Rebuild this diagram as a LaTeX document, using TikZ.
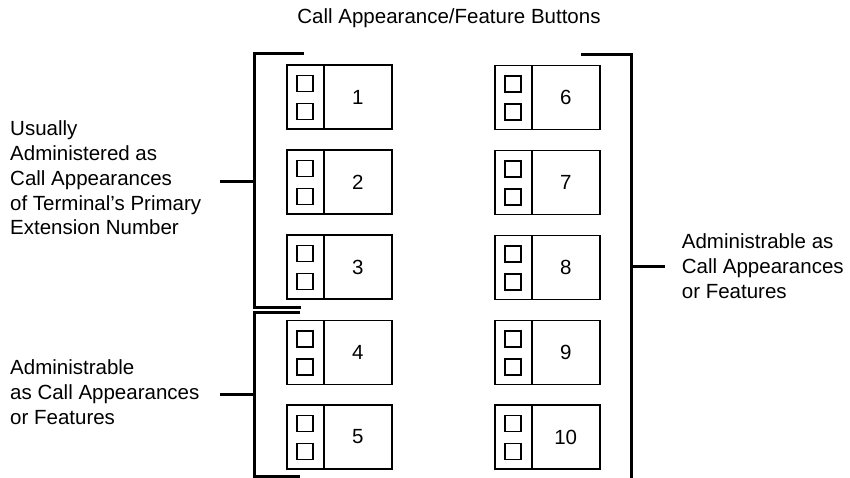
\documentclass[tikz,border=0pt]{standalone}
\usepackage{fontspec}
\setmainfont{Liberation Sans}
\begin{document}
\begin{tikzpicture}[x=1pt,y=-1pt,
  btn/.style={draw,line width=1.6pt,minimum width=105pt,minimum height=64pt,inner sep=0pt,outer sep=0pt},
  lamp/.style={draw,line width=1.5pt,minimum size=16pt,inner sep=0pt},
  divider/.style={line width=1.6pt},
  brk/.style={line width=3pt},
  lbl/.style={font=\fontsize{20.5}{24.7}\selectfont,align=left,anchor=west,inner sep=0pt},
  num/.style={font=\fontsize{20.5}{24.7}\selectfont,inner sep=0pt}]
\useasboundingbox (0,0) rectangle (850,478);

% title
\node[num] (title) at (449,18) {Call Appearance/Feature Buttons};

% buttons
\foreach \i/\x/\y in {1/286.7/65,2/286.7/150,3/286.7/235,4/286.7/320.5,5/286.7/405,
                      6/494.7/65.5,7/494.7/150.5,8/494.7/235.5,9/494.7/320.5,10/494.7/405}{
  \node[btn,anchor=north west] (b\i) at (\x,\y) {};
  \coordinate (dt\i) at ([xshift=37pt]b\i.north west);
  \coordinate (db\i) at ([xshift=37pt]b\i.south west);
  \draw[divider] (dt\i) -- (db\i);
  \node[lamp] (u\i) at ([xshift=18.5pt,yshift=-18.5pt]b\i.north west) {};
  \node[lamp] (l\i) at ([xshift=18.5pt,yshift=-46.5pt]b\i.north west) {};
  \node[num] (n\i) at ([xshift=71pt]b\i.west) {\i};
}

% upper left bracket
\coordinate (LA1) at (304,54);
\coordinate (LA2) at (254.7,54);
\coordinate (LA3) at (254.7,307.3);
\coordinate (LA4) at (300.7,307.3);
\draw[brk] (LA1) -- (LA2) -- (LA3) -- (LA4);
\coordinate (LAt) at (254.7,182);
\coordinate (LAe) at (220,182);
\draw[brk] (LAt) -- (LAe);
\node[lbl] (labA) at (10,178) {Usually\\Administered as\\Call Appearances\\of Terminal’s Primary\\Extension Number};

% lower left bracket
\coordinate (LB1) at (300,312.7);
\coordinate (LB2) at (254.7,312.7);
\coordinate (LB3) at (254.7,476.7);
\coordinate (LB4) at (300,476.7);
\draw[brk] (LB1) -- (LB2) -- (LB3) -- (LB4);
\coordinate (LBt) at (254.7,394);
\coordinate (LBe) at (220,394);
\draw[brk] (LBt) -- (LBe);
\node[lbl] (labB) at (10,392) {Administrable\\as Call Appearances\\or Features};

% right bracket
\coordinate (R1) at (581,54.3);
\coordinate (R2) at (631.7,54.3);
\coordinate (R3) at (631.7,480);
\draw[brk] (R1) -- (R2) -- (R3);
\coordinate (Rt) at (631.7,266);
\coordinate (Re) at (665,266);
\draw[brk] (Rt) -- (Re);
\node[lbl] (labC) at (681.7,266) {Administrable as\\Call Appearances\\or Features};
\end{tikzpicture}
\end{document}
